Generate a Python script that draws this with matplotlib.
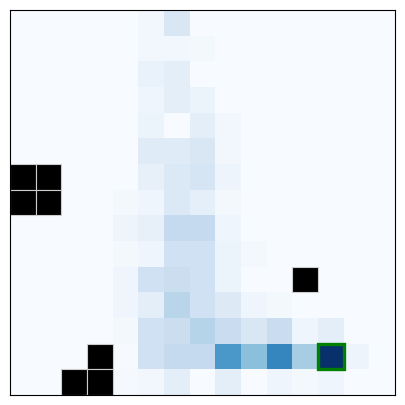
import numpy as np
import matplotlib
matplotlib.use("Agg")
import matplotlib.pyplot as plt
from matplotlib.patches import Rectangle

# State values on a 15x15 grid (row 0 = top)
values = [
    [0, 0, 0, 0, 0, 0.03, 0.15, 0, 0, 0, 0, 0, 0, 0, 0],
    [0, 0, 0, 0, 0, 0.03, 0.03, 0.02, 0, 0, 0, 0, 0, 0, 0],
    [0, 0, 0, 0, 0, 0.07, 0.10, 0, 0, 0, 0, 0, 0, 0, 0],
    [0, 0, 0, 0, 0, 0.04, 0.10, 0.06, 0, 0, 0, 0, 0, 0, 0],
    [0, 0, 0, 0, 0, 0.06, 0, 0.10, 0.03, 0, 0, 0, 0, 0, 0],
    [0, 0, 0, 0, 0, 0.12, 0.12, 0.15, 0.03, 0, 0, 0, 0, 0, 0],
    [0, 0, 0, 0, 0, 0.08, 0.14, 0.17, 0.05, 0, 0, 0, 0, 0, 0],
    [0, 0, 0, 0, 0.02, 0.04, 0.14, 0.09, 0.02, 0, 0, 0, 0, 0, 0],
    [0, 0, 0, 0, 0.05, 0.08, 0.25, 0.25, 0.04, 0, 0, 0, 0, 0, 0],
    [0, 0, 0, 0, 0.02, 0.04, 0.20, 0.20, 0.06, 0.02, 0, 0, 0, 0, 0],
    [0, 0, 0, 0, 0.04, 0.20, 0.22, 0.20, 0.06, 0, 0, 0, 0, 0, 0],
    [0, 0, 0, 0, 0.04, 0.10, 0.29, 0.20, 0.13, 0.04, 0.02, 0, 0, 0, 0],
    [0, 0, 0, 0, 0.02, 0.20, 0.22, 0.30, 0.23, 0.15, 0.23, 0.04, 0.10, 0, 0],
    [0, 0, 0, 0, 0.005, 0.20, 0.25, 0.25, 0.60, 0.42, 0.67, 0.35, 1.00, 0.05, 0],
    [0, 0, 0, 0, 0.01, 0.03, 0.10, 0, 0.10, 0, 0.04, 0.02, 0.04, 0, 0],
]

# Wall cells (row, col)
walls = [(6, 0), (6, 1), (7, 0), (7, 1), (10, 11), (13, 3), (14, 2), (14, 3)]
# Goal cell (row, col)
goal = (13, 12)

grid = np.array(values, dtype=float)

fig = plt.figure(figsize=(4.05, 4.05), dpi=100)
ax = fig.add_axes([10 / 405, 10 / 405, 385 / 405, 385 / 405])
ax.imshow(grid, cmap="Blues", vmin=0, vmax=1, interpolation="nearest", aspect="auto")

for r, c in walls:
    ax.add_patch(Rectangle((c - 0.5, r - 0.5), 1, 1, facecolor="black",
                           edgecolor="#cccccc", linewidth=0.8))

gr, gc = goal
ax.add_patch(Rectangle((gc - 0.5, gr - 0.5), 1, 1, fill=False,
                       edgecolor="green", linewidth=2.4))

ax.set_xlim(-0.5, grid.shape[1] - 0.5)
ax.set_ylim(grid.shape[0] - 0.5, -0.5)
ax.set_xticks([])
ax.set_yticks([])

fig.savefig("out.png", dpi=100)
